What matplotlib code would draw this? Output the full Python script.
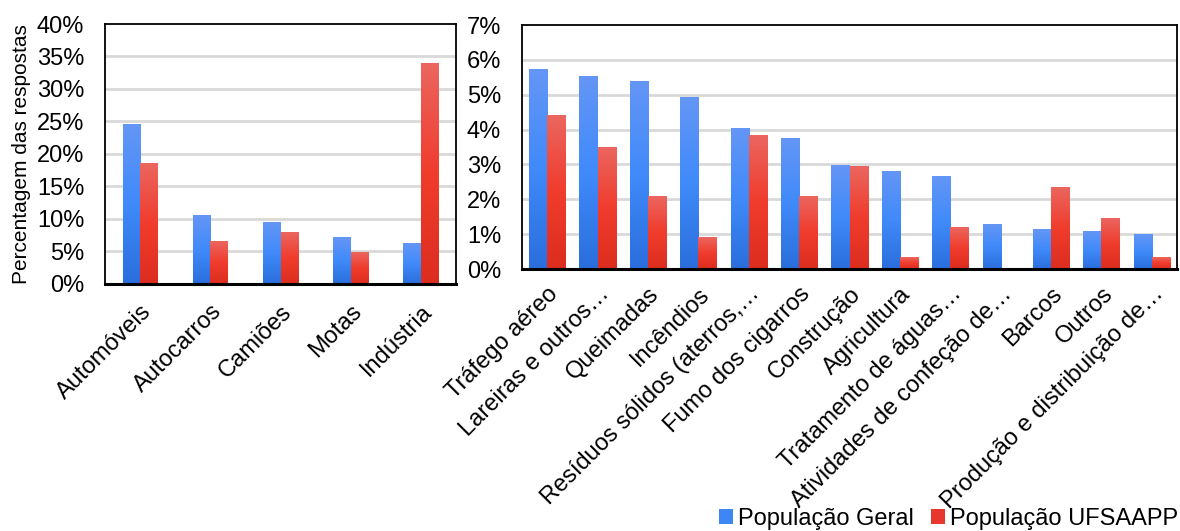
import numpy as np
import matplotlib
matplotlib.use('Agg')
import matplotlib.pyplot as plt
from matplotlib.colors import LinearSegmentedColormap
from matplotlib.patches import Patch
from matplotlib.ticker import PercentFormatter

plt.rcParams['font.family'] = ['Liberation Sans', 'DejaVu Sans']

# Dados - painel esquerdo (fontes de transporte / indústria)
cat_esq = ['Automóveis', 'Autocarros', 'Camiões', 'Motas', 'Indústria']
geral_esq = [24.6, 10.6, 9.5, 7.1, 6.2]
ufsaapp_esq = [18.5, 6.5, 8.0, 4.8, 34.0]

# Dados - painel direito (outras fontes)
cat_dir = ['Tráfego aéreo', 'Lareiras e outros…', 'Queimadas', 'Incêndios',
           'Resíduos sólidos (aterros,…', 'Fumo dos cigarros', 'Construção',
           'Agricultura', 'Tratamento de águas…', 'Atividades de confeção de…',
           'Barcos', 'Outros', 'Produção e distribuição de…']
geral_dir = [5.71, 5.51, 5.39, 4.93, 4.02, 3.73, 2.98, 2.81, 2.64, 1.29, 1.12, 1.09, 0.98]
ufsaapp_dir = [4.39, 3.50, 2.07, 0.89, 3.82, 2.07, 2.93, 0.32, 1.18, 0.0, 2.35, 1.46, 0.32]

legenda = ['População Geral', 'População UFSAAPP']

# gradientes verticais (mais claro no topo)
cmap_azul = LinearSegmentedColormap.from_list('azul', ['#2a6edc', '#408afa', '#6496f5'])
cmap_verm = LinearSegmentedColormap.from_list('verm', ['#dc2d1e', '#f03c2d', '#eb665f'])
grad = np.linspace(0, 1, 256).reshape(-1, 1)


def barras_gradiente(ax, x, vals, largura, cmap):
    bars = ax.bar(x, vals, largura, color='none', edgecolor='none', zorder=3)
    for b in bars:
        h = b.get_height()
        if h <= 0:
            continue
        x0 = b.get_x()
        ax.imshow(grad, extent=[x0, x0 + largura, 0, h], origin='lower',
                  aspect='auto', cmap=cmap, zorder=3, interpolation='bilinear')
    return bars


def desenhar(ax, cats, v1, v2, largura, ymax, passo, pad_x):
    x = np.arange(len(cats))
    barras_gradiente(ax, x - largura / 2, v1, largura, cmap_azul)
    barras_gradiente(ax, x + largura / 2, v2, largura, cmap_verm)
    ax.set_xlim(-0.5, len(cats) - 0.5)
    ax.set_ylim(0, ymax)
    ax.set_yticks(np.arange(0, ymax + 0.001, passo))
    ax.yaxis.set_major_formatter(PercentFormatter(decimals=0))
    ax.set_xticks(x)
    ax.set_xticklabels(cats, rotation=45, ha='right', rotation_mode='anchor')
    ax.tick_params(axis='both', length=0, labelsize=17)
    ax.tick_params(axis='y', pad=15)
    ax.tick_params(axis='x', pad=pad_x)
    for yv in np.arange(passo, ymax, passo):
        ax.axhline(yv, color='#d9d9d9', lw=2, zorder=1)
    for s in ax.spines.values():
        s.set_linewidth(1.3)
        s.set_color('black')
    ax.spines['bottom'].set_linewidth(2.2)
    ax.spines['bottom'].set_zorder(5)


fig = plt.figure(figsize=(11.8, 5.31), dpi=100)
ax1 = fig.add_axes([0.0890, 0.4652, 0.2975, 0.4896])
ax2 = fig.add_axes([0.4424, 0.4934, 0.5551, 0.4595])

desenhar(ax1, cat_esq, geral_esq, ufsaapp_esq, 0.25, 40, 5, 12)
desenhar(ax2, cat_dir, geral_dir, ufsaapp_dir, 0.36, 7, 1, 10)

ax1.set_ylabel('Percentagem das respostas', fontsize=15, labelpad=4)

handles = [Patch(facecolor='#3f86f5'), Patch(facecolor='#e8382d')]
fig.legend(handles, legenda, loc='lower right', bbox_to_anchor=(1.006, -0.016),
           ncol=2, frameon=False, fontsize=17, handlelength=0.6, handleheight=0.6,
           handletextpad=0.2, columnspacing=0.7, borderaxespad=0.0)

fig.savefig('out.png', dpi=100)
